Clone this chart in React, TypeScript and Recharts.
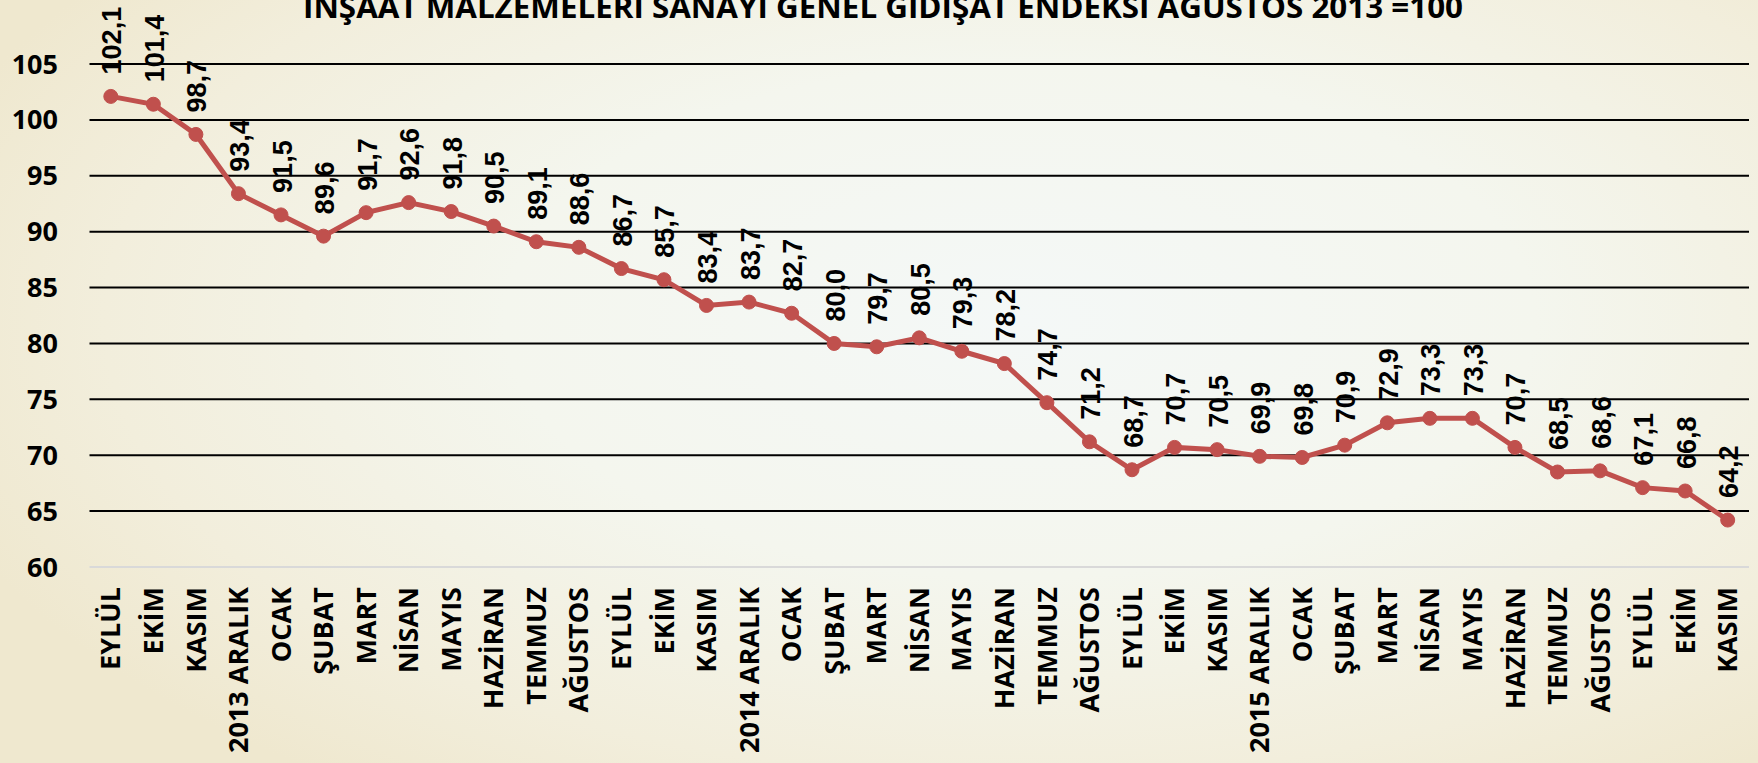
import { LineChart, Line, XAxis, YAxis, CartesianGrid, LabelList } from 'recharts'

const months = [
  'EYLÜL', 'EKİM', 'KASIM', '2013 ARALIK', 'OCAK', 'ŞUBAT', 'MART', 'NİSAN', 'MAYIS', 'HAZİRAN', 'TEMMUZ', 'AĞUSTOS',
  'EYLÜL', 'EKİM', 'KASIM', '2014 ARALIK', 'OCAK', 'ŞUBAT', 'MART', 'NİSAN', 'MAYIS', 'HAZİRAN', 'TEMMUZ', 'AĞUSTOS',
  'EYLÜL', 'EKİM', 'KASIM', '2015 ARALIK', 'OCAK', 'ŞUBAT', 'MART', 'NİSAN', 'MAYIS', 'HAZİRAN', 'TEMMUZ', 'AĞUSTOS',
  'EYLÜL', 'EKİM', 'KASIM',
]

const values = [
  102.1, 101.4, 98.7, 93.4, 91.5, 89.6, 91.7, 92.6, 91.8, 90.5, 89.1, 88.6,
  86.7, 85.7, 83.4, 83.7, 82.7, 80.0, 79.7, 80.5, 79.3, 78.2, 74.7, 71.2,
  68.7, 70.7, 70.5, 69.9, 69.8, 70.9, 72.9, 73.3, 73.3, 70.7, 68.5, 68.6,
  67.1, 66.8, 64.2,
]

const yTicks = [60, 65, 70, 75, 80, 85, 90, 95, 100, 105]

const title = 'İNŞAAT MALZEMELERİ SANAYİ GENEL GİDİŞAT ENDEKSİ AĞUSTOS 2013 =100'

const data = months.map((m, i) => ({ idx: i, month: m, value: values[i] }))

const axisFont = "'Open Sans', sans-serif"
const labelFont = "'Liberation Sans', Arial, sans-serif"

// virgul ile ondalik
const fmt = (v: number) => v.toFixed(1).replace('.', ',')

function XTick(props: any) {
  const { x, y, payload } = props
  return (
    <text
      transform={`translate(${x + 9.6},${y + 20}) rotate(-90)`}
      textAnchor="end"
      fontFamily={axisFont}
      fontWeight={700}
      fontSize={27}
      fill="#000"
    >
      {months[payload.value]}
    </text>
  )
}

function YTick(props: any) {
  const { y, payload } = props
  return (
    <text x={58} y={y + 9.6} textAnchor="end" fontFamily={axisFont} fontWeight={700} fontSize={27} fill="#000">
      {payload.value}
    </text>
  )
}

function PointLabel(props: any) {
  const { x, y, value } = props
  return (
    <text
      transform={`translate(${x + 10.5},${y - 22}) rotate(-90)`}
      textAnchor="start"
      fontFamily={labelFont}
      fontWeight={700}
      fontSize={27}
      fill="#000"
    >
      {fmt(value)}
    </text>
  )
}

function GridLine(props: any) {
  const { x1, x2, y1, y2, index } = props
  // en alttaki (60) cizgi eksen cizgisi, gri
  if (y1 > 560) return <g key={`h-${index}`} />
  return <line key={`h-${index}`} x1={x1} x2={x2} y1={y1} y2={y2} stroke="#000" strokeWidth={2} />
}

export default function App() {
  return (
    <div
      style={{
        position: 'absolute',
        left: 0,
        top: 0,
        width: 1758,
        height: 763,
        overflow: 'hidden',
        background:
          'radial-gradient(ellipse 65% 75% at 58% 42%, #F4F8F7 0%, #F4F6EE 45%, #F2EEDC 80%, #EFE8CF 100%)',
      }}
    >
      <LineChart width={1758} height={763} data={data} margin={{ top: 64, right: 9, left: 0, bottom: 0 }}>
        <CartesianGrid vertical={false} horizontal={GridLine} />
        <XAxis
          dataKey="idx"
          type="category"
          height={196}
          interval={0}
          padding={{ left: 21.3, right: 21.3 }}
          tick={XTick}
          tickLine={false}
          tickSize={0}
          tickMargin={0}
          axisLine={{ stroke: '#D9D9D9', strokeWidth: 2 }}
        />
        <YAxis
          width={89.5}
          domain={[60, 105]}
          ticks={yTicks}
          interval={0}
          tick={YTick}
          tickLine={false}
          axisLine={false}
          tickSize={0}
          tickMargin={0}
        />
        <Line
          type="linear"
          dataKey="value"
          stroke="#C0504D"
          strokeWidth={5}
          dot={{ r: 7, fill: '#C0504D', stroke: '#C0504D', strokeWidth: 1 }}
          isAnimationActive={false}
        >
          <LabelList dataKey="value" content={PointLabel} />
        </Line>
      </LineChart>
      <svg width={1758} height={763} style={{ position: 'absolute', left: 0, top: 0, pointerEvents: 'none' }}>
        <text
          x={303}
          y={18}
          textLength={1160}
          lengthAdjust="spacingAndGlyphs"
          fontFamily={axisFont}
          fontWeight={700}
          fontSize={31}
          fill="#000"
        >
          {title}
        </text>
      </svg>
    </div>
  )
}
